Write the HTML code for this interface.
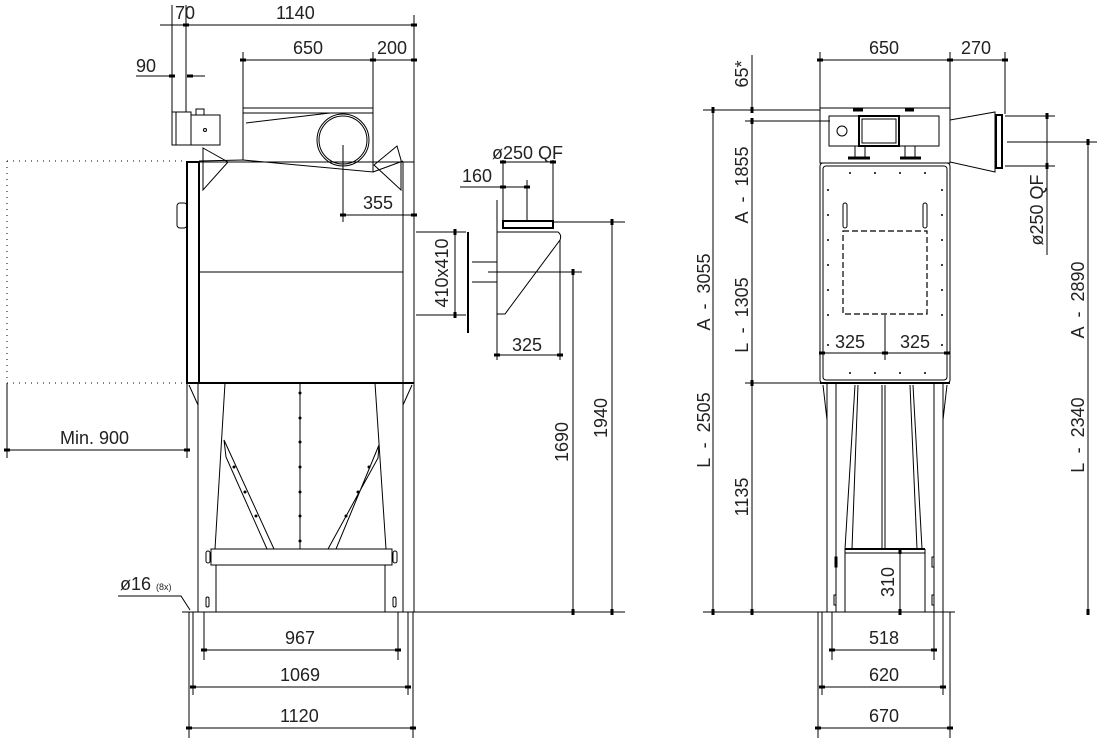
<!DOCTYPE html>
<html><head><meta charset="utf-8"><style>
html,body{margin:0;padding:0;background:#fff}
svg{display:block}
text{font-family:"Liberation Sans",sans-serif;font-size:18px;fill:#222}
.l{stroke:#000;stroke-width:1;fill:none}
.t{stroke:#000;stroke-width:2;fill:none}
.d{stroke:#000;stroke-width:1;fill:none}
.dot{stroke:#000;stroke-width:1;stroke-dasharray:1 5;fill:none}
.dash{stroke:#000;stroke-width:1.2;stroke-dasharray:6 3;fill:none}
</style></head><body>
<svg width="1101" height="741" viewBox="0 0 1101 741" xmlns="http://www.w3.org/2000/svg">
<defs>
<marker id="a" markerWidth="6" markerHeight="4" refX="3" refY="2" orient="auto"><rect x="0" y="0.5" width="6" height="3" fill="#000"/></marker>
</defs>

<!-- ========== LEFT VIEW ========== -->
<g class="d">
<line x1="172" y1="5" x2="172" y2="112"/><line x1="186" y1="5" x2="186" y2="112"/>
<line x1="160" y1="25" x2="186" y2="25"/>
<line x1="186" y1="25" x2="414" y2="25" marker-start="url(#a)" marker-end="url(#a)"/>
<line x1="414" y1="15" x2="414" y2="612"/>
<line x1="243" y1="52" x2="243" y2="108"/><line x1="373" y1="52" x2="373" y2="108"/>
<line x1="243" y1="60" x2="373" y2="60" marker-start="url(#a)" marker-end="url(#a)"/>
<line x1="373" y1="60" x2="414" y2="60" marker-start="url(#a)" marker-end="url(#a)"/>
<line x1="136" y1="76" x2="172" y2="76"/>
<line x1="163" y1="76" x2="172" y2="76" marker-end="url(#a)"/>
<line x1="190" y1="76" x2="205" y2="76" marker-start="url(#a)"/>
</g>
<text x="175" y="19">70</text>
<text x="276" y="19">1140</text>
<text x="293" y="54">650</text>
<text x="377" y="54">200</text>
<text x="136" y="72">90</text>

<rect x="172" y="112" width="19" height="33" class="l"/>
<line x1="176" y1="112" x2="176" y2="145" class="l"/>
<rect x="191" y="115" width="29" height="30" class="l"/>
<rect x="196" y="109" width="8" height="6" class="l"/>
<circle cx="205" cy="130" r="1.5" class="l"/>

<polygon points="243,108 373,108 373,172 243,160" class="l"/>
<line x1="243" y1="113" x2="373" y2="113" class="l"/>
<line x1="246" y1="123" x2="330" y2="113" class="l"/>
<circle cx="343" cy="140" r="26" class="l"/>
<circle cx="343" cy="140" r="24" class="l"/>
<line x1="343" y1="145" x2="343" y2="222" class="d"/>
<polygon points="203,148 228,162 203,190" class="l"/>
<polygon points="397,146 401,160 401,190 374,165" class="l"/>
<line x1="199" y1="161" x2="243" y2="160" class="l"/>
<line x1="373" y1="172" x2="403" y2="161" class="l"/>
<rect x="187" y="162" width="12" height="221" class="t"/>
<rect x="199" y="162" width="204" height="221" class="l"/>
<rect x="403" y="162" width="11" height="221" class="l"/>
<line x1="199" y1="272" x2="403" y2="272" class="l"/>
<rect x="177" y="203" width="10" height="25" rx="3" class="l"/>
<line x1="343" y1="215" x2="414" y2="215" class="d" marker-start="url(#a)" marker-end="url(#a)"/>
<text x="363" y="209">355</text>

<line x1="7" y1="161" x2="186" y2="161" class="dot"/>
<line x1="7" y1="383" x2="186" y2="383" class="dot"/>
<line x1="7" y1="161" x2="7" y2="383" class="dot"/>
<line x1="7" y1="383" x2="7" y2="458" class="d"/>
<line x1="187" y1="383" x2="187" y2="458" class="d"/>
<line x1="7" y1="450" x2="187" y2="450" class="d" marker-start="url(#a)" marker-end="url(#a)"/>
<text x="60" y="444">Min. 900</text>

<g class="l">
<line x1="186" y1="383" x2="414" y2="383" stroke-width="2"/>
<polyline points="198,383 198,612 216,612 216,565"/>
<polyline points="403,383 403,612 385,612 385,565"/>
<line x1="189" y1="385" x2="198" y2="405"/><line x1="412" y1="385" x2="403" y2="405"/>
<line x1="225" y1="383" x2="215" y2="549"/>
<line x1="375" y1="383" x2="386" y2="549"/>
<line x1="300" y1="383" x2="300" y2="549"/>
<polygon points="224,440 226,457 267,549 274,549"/>
<polygon points="379,445 378,458 328,549 336,549"/>
<rect x="211" y="549" width="181" height="16"/>
<rect x="206" y="551" width="4" height="12" rx="2"/><rect x="393" y="551" width="4" height="12" rx="2"/>
<rect x="206" y="597" width="3" height="10" rx="1.5"/><rect x="393" y="597" width="3" height="10" rx="1.5"/>
</g>
<g fill="#000">
<circle cx="300" cy="393" r="1.5"/><circle cx="300" cy="418" r="1.5"/><circle cx="300" cy="442" r="1.5"/><circle cx="300" cy="467" r="1.5"/><circle cx="300" cy="492" r="1.5"/><circle cx="300" cy="516" r="1.5"/><circle cx="300" cy="541" r="1.5"/>
<circle cx="234" cy="467" r="1.5"/><circle cx="245" cy="492" r="1.5"/><circle cx="256" cy="516" r="1.5"/>
<circle cx="369" cy="467" r="1.5"/><circle cx="358" cy="492" r="1.5"/><circle cx="346" cy="516" r="1.5"/>
</g>
<line x1="182" y1="612" x2="625" y2="612" class="l"/>

<text x="120" y="590">ø16 <tspan font-size="9">(8x)</tspan></text>
<polyline points="118,596 181,596 190,610" class="d"/>

<g class="d">
<line x1="189" y1="612" x2="189" y2="738"/><line x1="193" y1="612" x2="193" y2="695"/>
<line x1="204" y1="612" x2="204" y2="660"/><line x1="398" y1="612" x2="398" y2="660"/>
<line x1="408" y1="612" x2="408" y2="695"/><line x1="413" y1="612" x2="413" y2="738"/>
<line x1="204" y1="650" x2="398" y2="650" marker-start="url(#a)" marker-end="url(#a)"/>
<line x1="193" y1="687" x2="408" y2="687" marker-start="url(#a)" marker-end="url(#a)"/>
<line x1="189" y1="728" x2="413" y2="728" marker-start="url(#a)" marker-end="url(#a)"/>
</g>
<text x="285" y="644">967</text>
<text x="280" y="681">1069</text>
<text x="280" y="722">1120</text>

<g class="l">
<line x1="503" y1="160" x2="503" y2="222"/><line x1="553" y1="160" x2="553" y2="222"/>
<rect x="503" y="221" width="50" height="7" stroke-width="2"/>
<path d="M497,232 L558,232 Q562,235 560,240 L505,314 L497,314 Z"/>
<line x1="497" y1="200" x2="497" y2="360"/>
<line x1="560" y1="240" x2="560" y2="360"/>
<line x1="472" y1="262" x2="497" y2="262"/><line x1="472" y1="282" x2="497" y2="282"/>
<line x1="468" y1="232" x2="468" y2="333" stroke-width="2"/>
<line x1="527" y1="180" x2="527" y2="220"/>
</g>
<g class="d">
<line x1="503" y1="162" x2="553" y2="162" marker-start="url(#a)" marker-end="url(#a)"/>
<line x1="460" y1="187" x2="503" y2="187"/>
<line x1="503" y1="187" x2="527" y2="187" marker-start="url(#a)" marker-end="url(#a)"/>
<line x1="497" y1="355" x2="560" y2="355" marker-start="url(#a)" marker-end="url(#a)"/>
<line x1="416" y1="232" x2="466" y2="232"/><line x1="416" y1="315" x2="466" y2="315"/>
<line x1="455" y1="232" x2="455" y2="315" marker-start="url(#a)" marker-end="url(#a)"/>
<line x1="553" y1="222" x2="625" y2="222"/><line x1="488" y1="272" x2="582" y2="272"/>
<line x1="612" y1="222" x2="612" y2="612" marker-start="url(#a)" marker-end="url(#a)"/>
<line x1="573" y1="272" x2="573" y2="612" marker-start="url(#a)" marker-end="url(#a)"/>
</g>
<text x="492" y="159">ø250 QF</text>
<text x="462" y="182">160</text>
<text x="512" y="351">325</text>
<text transform="translate(448,273) rotate(-90)" text-anchor="middle">410x410</text>
<text transform="translate(568,442) rotate(-90)" text-anchor="middle">1690</text>
<text transform="translate(607,418) rotate(-90)" text-anchor="middle">1940</text>

<!-- ========== RIGHT VIEW ========== -->
<g class="d">
<line x1="820" y1="52" x2="820" y2="108"/><line x1="950" y1="52" x2="950" y2="108"/><line x1="1005" y1="52" x2="1005" y2="114"/>
<line x1="820" y1="60" x2="950" y2="60" marker-start="url(#a)" marker-end="url(#a)"/>
<line x1="950" y1="60" x2="1005" y2="60" marker-start="url(#a)" marker-end="url(#a)"/>
<line x1="703" y1="110" x2="820" y2="110"/>
<line x1="745" y1="121" x2="830" y2="121"/>
<line x1="745" y1="383" x2="820" y2="383"/>
<line x1="703" y1="612" x2="820" y2="612"/>
<line x1="713" y1="110" x2="713" y2="612" marker-start="url(#a)" marker-end="url(#a)"/>
<line x1="752" y1="55" x2="752" y2="110" marker-end="url(#a)"/>
<line x1="752" y1="121" x2="752" y2="383" marker-start="url(#a)" marker-end="url(#a)"/>
<line x1="752" y1="383" x2="752" y2="612" marker-start="url(#a)" marker-end="url(#a)"/>
<line x1="1005" y1="116" x2="1055" y2="116"/><line x1="1005" y1="166" x2="1055" y2="166"/>
<line x1="1047" y1="116" x2="1047" y2="166" marker-start="url(#a)" marker-end="url(#a)"/>
<line x1="1047" y1="166" x2="1047" y2="255"/>
<line x1="1007" y1="142" x2="1097" y2="142"/>
<line x1="1088" y1="142" x2="1088" y2="612" marker-start="url(#a)" marker-end="url(#a)"/>
</g>
<text x="869" y="54">650</text>
<text x="961" y="54">270</text>
<text transform="translate(748,74) rotate(-90)" text-anchor="middle">65*</text>
<text transform="translate(748,185) rotate(-90)" text-anchor="middle">A &#160;- &#160;1855</text>
<text transform="translate(748,315) rotate(-90)" text-anchor="middle">L &#160;- &#160;1305</text>
<text transform="translate(748,497) rotate(-90)" text-anchor="middle">1135</text>
<text transform="translate(710,292) rotate(-90)" text-anchor="middle">A &#160;- &#160;3055</text>
<text transform="translate(710,430) rotate(-90)" text-anchor="middle">L &#160;- &#160;2505</text>
<text transform="translate(1043,210) rotate(-90)" text-anchor="middle">ø250 QF</text>
<text transform="translate(1084,300) rotate(-90)" text-anchor="middle">A &#160;- &#160;2890</text>
<text transform="translate(1084,435) rotate(-90)" text-anchor="middle">L &#160;- &#160;2340</text>

<g class="l">
<rect x="820" y="108" width="130" height="55"/>
<rect x="829" y="116" width="110" height="30"/>
<rect x="859" y="116" width="40" height="30" stroke-width="2"/>
<rect x="862" y="119" width="34" height="24"/>
<circle cx="842" cy="131" r="5"/>
<rect x="855" y="146" width="10" height="12"/><rect x="905" y="146" width="10" height="12"/>
<line x1="848" y1="158" x2="870" y2="158" stroke-width="3"/><line x1="900" y1="158" x2="921" y2="158" stroke-width="3"/>
<line x1="853" y1="110" x2="863" y2="110" stroke-width="3"/><line x1="905" y1="110" x2="914" y2="110" stroke-width="3"/>
<polygon points="950,120 995,112 995,172 950,162"/>
<rect x="996" y="115" width="6" height="53" stroke-width="2"/>
<rect x="820" y="163" width="130" height="220" rx="3"/>
<rect x="823" y="166" width="124" height="214" rx="3"/>
<rect x="843" y="203" width="4" height="25" rx="2"/><rect x="923" y="203" width="4" height="25" rx="2"/>
</g>
<rect x="843" y="231" width="84" height="83" class="dash"/>
<g class="d">
<line x1="885" y1="315" x2="885" y2="360"/>
<line x1="822" y1="353" x2="885" y2="353" marker-start="url(#a)" marker-end="url(#a)"/>
<line x1="885" y1="353" x2="947" y2="353" marker-start="url(#a)" marker-end="url(#a)"/>
</g>
<text x="835" y="348">325</text>
<text x="900" y="348">325</text>
<g fill="#000">
<circle cx="828" cy="190" r="1"/><circle cx="828" cy="215" r="1"/><circle cx="828" cy="240" r="1"/><circle cx="828" cy="265" r="1"/><circle cx="828" cy="290" r="1"/><circle cx="828" cy="315" r="1"/><circle cx="828" cy="345" r="1"/>
<circle cx="942" cy="190" r="1"/><circle cx="942" cy="215" r="1"/><circle cx="942" cy="240" r="1"/><circle cx="942" cy="265" r="1"/><circle cx="942" cy="290" r="1"/><circle cx="942" cy="315" r="1"/><circle cx="942" cy="345" r="1"/>
<circle cx="850" cy="173" r="1"/><circle cx="875" cy="173" r="1"/><circle cx="900" cy="173" r="1"/><circle cx="925" cy="173" r="1"/>
<circle cx="850" cy="373" r="1"/><circle cx="875" cy="373" r="1"/><circle cx="900" cy="373" r="1"/><circle cx="925" cy="373" r="1"/>
</g>

<g class="l">
<line x1="820" y1="383" x2="950" y2="383" stroke-width="2"/>
<line x1="827" y1="383" x2="827" y2="612"/><line x1="836" y1="383" x2="836" y2="612"/>
<line x1="943" y1="383" x2="943" y2="612"/><line x1="934" y1="383" x2="934" y2="612"/>
<line x1="823" y1="385" x2="827" y2="420"/><line x1="947" y1="385" x2="943" y2="420"/>
<line x1="855" y1="385" x2="845" y2="549"/><line x1="858" y1="385" x2="852" y2="549"/>
<line x1="913" y1="385" x2="922" y2="549"/><line x1="910" y1="385" x2="917" y2="549"/>
<line x1="882" y1="385" x2="882" y2="549"/><line x1="885" y1="385" x2="885" y2="549"/>
<line x1="845" y1="549" x2="925" y2="549" stroke-width="2"/>
<line x1="845" y1="553" x2="925" y2="553"/>
<line x1="845" y1="549" x2="845" y2="612"/><line x1="925" y1="549" x2="925" y2="612"/>
<rect x="835" y="557" width="2" height="10"/><rect x="932" y="557" width="2" height="10"/>
<rect x="834" y="595" width="2" height="10"/><rect x="932" y="595" width="2" height="10"/>
</g>
<line x1="900" y1="551" x2="900" y2="612" class="d" marker-start="url(#a)" marker-end="url(#a)"/>
<text transform="translate(894,582) rotate(-90)" text-anchor="middle">310</text>
<line x1="818" y1="612" x2="955" y2="612" class="l"/>

<g class="d">
<line x1="818" y1="612" x2="818" y2="738"/><line x1="822" y1="612" x2="822" y2="695"/>
<line x1="832" y1="612" x2="832" y2="660"/><line x1="934" y1="612" x2="934" y2="660"/>
<line x1="943" y1="612" x2="943" y2="695"/><line x1="950" y1="612" x2="950" y2="738"/>
<line x1="832" y1="650" x2="934" y2="650" marker-start="url(#a)" marker-end="url(#a)"/>
<line x1="822" y1="687" x2="943" y2="687" marker-start="url(#a)" marker-end="url(#a)"/>
<line x1="818" y1="728" x2="950" y2="728" marker-start="url(#a)" marker-end="url(#a)"/>
</g>
<text x="869" y="644">518</text>
<text x="869" y="681">620</text>
<text x="869" y="722">670</text>
</svg>
</body></html>
